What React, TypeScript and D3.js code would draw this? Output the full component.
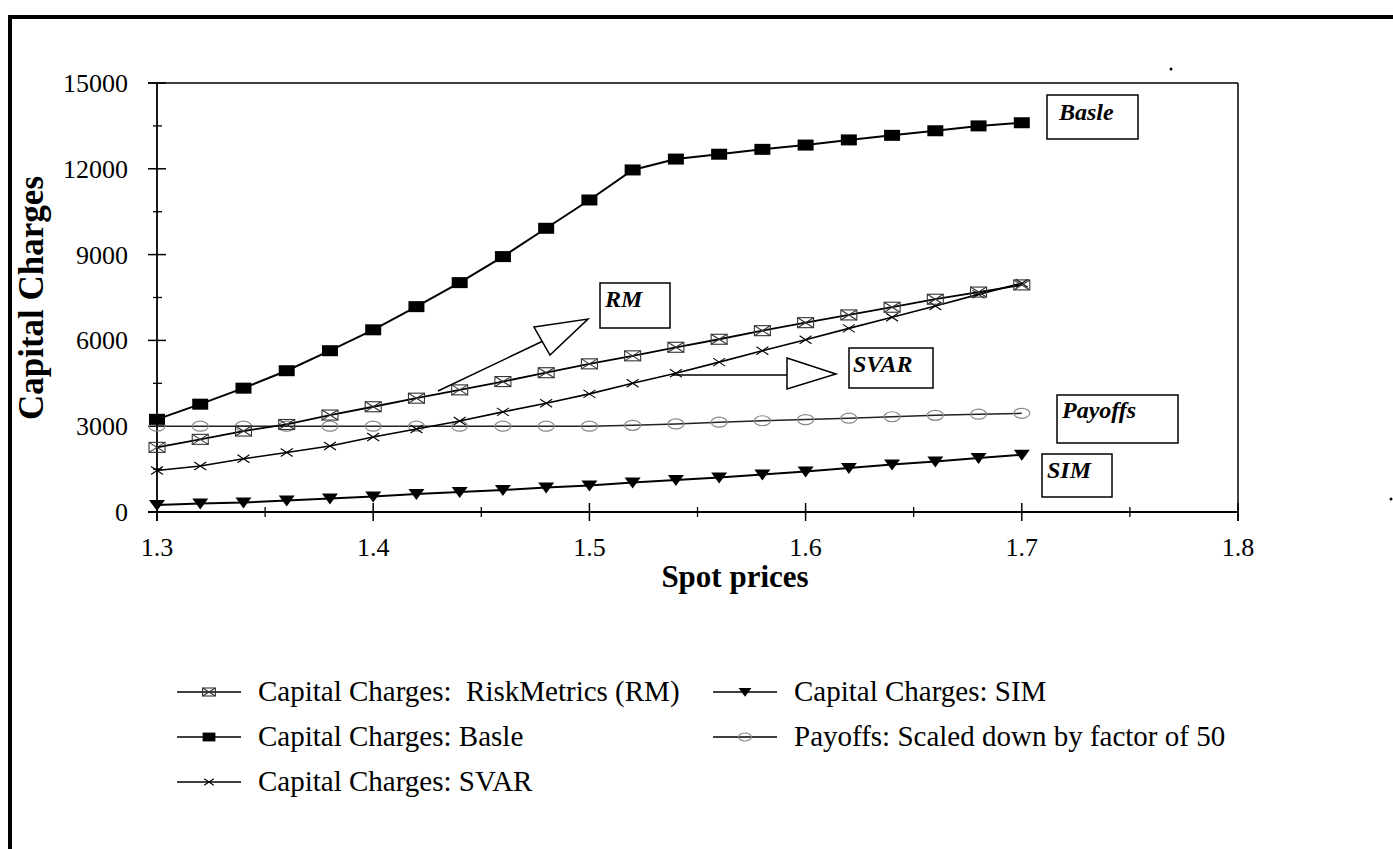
import React from 'react'
import { scaleLinear, line, range } from 'd3'

// spot prices (x) and the five series
const spot = [1.30, 1.32, 1.34, 1.36, 1.38, 1.40, 1.42, 1.44, 1.46, 1.48, 1.50,
  1.52, 1.54, 1.56, 1.58, 1.60, 1.62, 1.64, 1.66, 1.68, 1.70]
const basle = [3240, 3770, 4330, 4940, 5640, 6370, 7180, 8020, 8930, 9920, 10910,
  11960, 12340, 12510, 12680, 12830, 13010, 13170, 13330, 13500, 13610]
const riskMetrics = [2260, 2540, 2830, 3060, 3390, 3680, 3980, 4270, 4560, 4870, 5180,
  5460, 5760, 6040, 6340, 6620, 6890, 7160, 7440, 7690, 7940]
const svar = [1450, 1610, 1860, 2080, 2310, 2620, 2900, 3180, 3500, 3800, 4130,
  4500, 4850, 5240, 5640, 6020, 6420, 6810, 7200, 7610, 8000]
const sim = [245, 300, 330, 400, 470, 540, 630, 700, 770, 860, 930,
  1030, 1120, 1210, 1310, 1420, 1540, 1660, 1770, 1890, 2000]
const payoffs = [3000, 3000, 3000, 3000, 3000, 3000, 3000, 3000, 3000, 3000, 3000,
  3030, 3080, 3140, 3190, 3230, 3280, 3330, 3380, 3420, 3450]

const xTicks = [1.3, 1.4, 1.5, 1.6, 1.7, 1.8]
const yTicks = [0, 3000, 6000, 9000, 12000, 15000]

const legendLeft = [
  { label: 'Capital Charges:  RiskMetrics (RM)', marker: 'rm' },
  { label: 'Capital Charges: Basle', marker: 'basle' },
  { label: 'Capital Charges: SVAR', marker: 'svar' },
]
const legendRight = [
  { label: 'Capital Charges: SIM', marker: 'sim' },
  { label: 'Payoffs: Scaled down by factor of 50', marker: 'payoff' },
]

const serif = '"Liberation Serif", "Times New Roman", serif'

const Marker = ({ kind, cx, cy, s = 1 }: { kind: string, cx: number, cy: number, s?: number }) => {
  if (kind === 'basle') {
    return <rect x={cx - 8 * s} y={cy - 5.5 * s} width={16 * s} height={11 * s} fill="#000" />
  }
  if (kind === 'rm') {
    let w = 8 * s, h = 5 * s
    return (
      <g stroke="#333" strokeWidth={1.1} fill="none">
        <rect x={cx - w} y={cy - h} width={2 * w} height={2 * h} />
        <path d={`M${cx - w},${cy - h}L${cx + w},${cy + h}M${cx - w},${cy + h}L${cx + w},${cy - h}`} />
      </g>
    )
  }
  if (kind === 'svar') {
    let w = 6 * s, h = 4 * s
    return <path d={`M${cx - w},${cy - h}L${cx + w},${cy + h}M${cx - w},${cy + h}L${cx + w},${cy - h}`}
      stroke="#000" strokeWidth={1.1} />
  }
  if (kind === 'sim') {
    let w = 8 * s
    return <path d={`M${cx - w},${cy - 5 * s}L${cx + w},${cy - 5 * s}L${cx},${cy + 6 * s}Z`} fill="#000" />
  }
  return <ellipse cx={cx} cy={cy} rx={8 * s} ry={5 * s} fill="none" stroke="#888" strokeWidth={1.2} />
}

const App = () => {
  let width = 1393
  let height = 849

  let x = scaleLinear().domain([1.3, 1.8]).range([157, 1238])
  let y = scaleLinear().domain([0, 15000]).range([512, 83])

  let series = [
    { values: payoffs, marker: 'payoff', stroke: '#222', sw: 1.5 },
    { values: svar, marker: 'svar', stroke: '#000', sw: 1.6 },
    { values: riskMetrics, marker: 'rm', stroke: '#000', sw: 1.8 },
    { values: sim, marker: 'sim', stroke: '#000', sw: 2 },
    { values: basle, marker: 'basle', stroke: '#000', sw: 2 },
  ]

  let path = line<number>().x((_, i) => x(spot[i])).y(d => y(d))

  let xMinor = range(1.35, 1.8, 0.1)
  let yMinor = range(1500, 15000, 3000)

  return (
    <svg width={width} height={height} style={{ position: 'absolute', left: 0, top: 0, background: '#fff' }}
      fontFamily={serif}>
      <rect width={width} height={height} fill="#fff" />
      {/* page frame */}
      <line x1={8} y1={17} x2={width} y2={17} stroke="#000" strokeWidth={4} />
      <line x1={10} y1={15} x2={10} y2={height} stroke="#000" strokeWidth={4} />

      {/* plot frame */}
      <line x1={x(1.3) - 9} y1={y(15000)} x2={x(1.8)} y2={y(15000)} stroke="#000" strokeWidth={1.5} />
      <line x1={x(1.8)} y1={y(15000)} x2={x(1.8)} y2={y(0) + 9} stroke="#000" strokeWidth={1.5} />
      <line x1={x(1.3) - 9} y1={y(0)} x2={x(1.8)} y2={y(0)} stroke="#000" strokeWidth={1.8} />
      <line x1={x(1.3)} y1={y(15000)} x2={x(1.3)} y2={y(0) + 9} stroke="#000" strokeWidth={1.8} />

      {yTicks.map(t => (
        <g key={'y' + t}>
          <line x1={x(1.3) - 9} x2={x(1.3) + 9} y1={y(t)} y2={y(t)} stroke="#000" strokeWidth={1.5} />
          <text x={128} y={y(t) + 9} textAnchor="end" fontSize={26}>{t}</text>
        </g>
      ))}
      {yMinor.map(t => (
        <line key={'ym' + t} x1={x(1.3) - 4} x2={x(1.3) + 5} y1={y(t)} y2={y(t)} stroke="#000" strokeWidth={1.3} />
      ))}
      {xTicks.map(t => (
        <g key={'x' + t}>
          <line x1={x(t)} x2={x(t)} y1={y(0) - 9} y2={y(0) + 9} stroke="#000" strokeWidth={1.5} />
          <text x={x(t)} y={556} textAnchor="middle" fontSize={26}>{t.toFixed(1)}</text>
        </g>
      ))}
      {xMinor.map(t => (
        <line key={'xm' + t} x1={x(t)} x2={x(t)} y1={y(0) - 5} y2={y(0) + 5} stroke="#000" strokeWidth={1.3} />
      ))}

      <text transform="translate(43,298) rotate(-90)" textAnchor="middle" fontSize={35} fontWeight="bold">
        Capital Charges
      </text>
      <text x={735} y={587} textAnchor="middle" fontSize={31} fontWeight="bold">Spot prices</text>

      {/* series */}
      {series.map(s => (
        <g key={s.marker}>
          <path d={path(s.values) || ''} fill="none" stroke={s.stroke} strokeWidth={s.sw} />
          {s.values.map((v, i) => <Marker key={i} kind={s.marker} cx={x(spot[i])} cy={y(v)} />)}
        </g>
      ))}

      {/* callouts */}
      <g stroke="#000" strokeWidth={1.5} fill="#fff">
        <line x1={438} y1={391} x2={543} y2={341} />
        <path d="M534,327L588,319L550,355Z" />
        <line x1={672} y1={375} x2={787} y2={375} />
        <path d="M787,358L836,374L787,389Z" />
        <rect x={1047} y={95} width={91} height={44} />
        <rect x={600} y={283} width={70} height={45} />
        <rect x={849} y={348} width={84} height={40} />
        <rect x={1057} y={395} width={121} height={48} />
        <rect x={1042} y={454} width={70} height={43} />
      </g>
      <g fontSize={24} fontWeight="bold" fontStyle="italic">
        <text x={1059} y={120}>Basle</text>
        <text x={605} y={307}>RM</text>
        <text x={853} y={372}>SVAR</text>
        <text x={1062} y={418}>Payoffs</text>
        <text x={1047} y={478}>SIM</text>
      </g>

      {/* legend */}
      {legendLeft.map((d, i) => (
        <g key={d.label} transform={`translate(0,${692 + i * 45})`}>
          <line x1={177} x2={241} y1={0} y2={0} stroke="#000" strokeWidth={1.5} />
          <Marker kind={d.marker} cx={209} cy={0} s={0.8} />
          <text x={258} y={9} fontSize={29} style={{ whiteSpace: 'pre' }}>{d.label}</text>
        </g>
      ))}
      {legendRight.map((d, i) => (
        <g key={d.label} transform={`translate(0,${692 + i * 45})`}>
          <line x1={713} x2={777} y1={0} y2={0} stroke="#000" strokeWidth={1.5} />
          <Marker kind={d.marker} cx={745} cy={0} s={0.8} />
          <text x={794} y={9} fontSize={29} style={{ whiteSpace: 'pre' }}>{d.label}</text>
        </g>
      ))}

      {/* specks from the scan */}
      <circle cx={1171} cy={69} r={1.5} fill="#000" />
      <circle cx={1391} cy={499} r={1.5} fill="#000" />
    </svg>
  )
}

export default App
